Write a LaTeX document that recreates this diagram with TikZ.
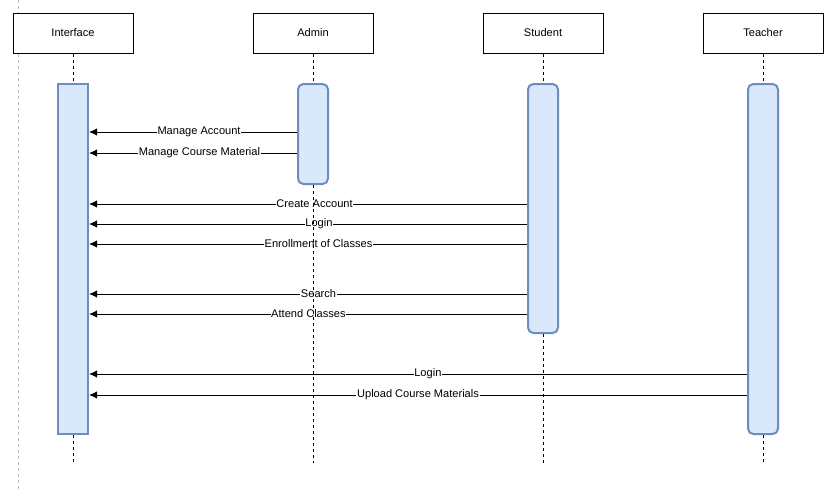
\documentclass[tikz,border=0pt]{standalone}
\usepackage{fontspec}
\setmainfont{Liberation Sans}
\usetikzlibrary{arrows.meta}
\definecolor{barfill}{HTML}{DAE8FC}
\definecolor{barline}{HTML}{6C8EBF}
\tikzset{
  actor/.style={draw=black, line width=0.75pt, fill=white, minimum width=90pt, minimum height=30pt, inner sep=0pt, font=\fontsize{8.3}{10}\selectfont},
  lifeline/.style={black, line width=0.75pt, dash pattern=on 2.25pt off 2.25pt},
  actbar/.style={draw=barline, fill=barfill, line width=1.5pt, minimum width=22.5pt, inner sep=0pt, anchor=north},
  msg/.style={-{Latex[length=6pt,width=5.5pt]}, line width=0.75pt},
  lbl/.style={fill=white, inner sep=0.5pt, font=\fontsize{8.3}{10}\selectfont}
}
\begin{document}
\begin{tikzpicture}[x=0.75pt,y=-0.75pt]
\useasboundingbox (0,0) rectangle (839,490);
\fill[white] (0,0) rectangle (839,490);
\draw[gray!50, line width=0.75pt, dash pattern=on 2.25pt off 2.25pt] (18,0) -- (18,490);
% actors
\node[actor] (iface) at (73,33) {Interface};
\node[actor] (admin) at (313,33) {Admin};
\node[actor] (stud) at (543,33) {Student};
\node[actor] (teach) at (763,33) {Teacher};
% activation bars
\node[actbar, minimum height=262.5pt] (ibar) at (73,83) {};
\node[actbar, rounded corners=4pt, minimum height=75pt] (abar) at (313,83) {};
\node[actbar, rounded corners=4pt, minimum height=186.75pt] (sbar) at (543,83) {};
\node[actbar, rounded corners=4pt, minimum height=262.5pt] (tbar) at (763,83) {};
% messages
\draw[msg] (abar.west |- 0,132) -- node[lbl, pos=0.471] {Manage Account} (ibar.east |- 0,132);
\draw[msg] (abar.west |- 0,153) -- node[lbl, pos=0.469] {Manage Course Material} (ibar.east |- 0,153);
\draw[msg] (sbar.west |- 0,204) -- node[lbl, pos=0.485] {Create Account} (ibar.east |- 0,204);
\draw[msg] (sbar.west |- 0,224) -- node[lbl, pos=0.475] {Login} (ibar.east |- 0,224);
\draw[msg] (sbar.west |- 0,244) -- node[lbl, pos=0.476] {Enrollment of Classes} (ibar.east |- 0,244);
\draw[msg] (sbar.west |- 0,294) -- node[lbl, pos=0.476] {Search} (ibar.east |- 0,294);
\draw[msg] (sbar.west |- 0,314) -- node[lbl, pos=0.499] {Attend Classes} (ibar.east |- 0,314);
\draw[msg] (tbar.west |- 0,374) -- node[lbl, pos=0.485] {Login} (ibar.east |- 0,374);
\draw[msg] (tbar.west |- 0,395) -- node[lbl, pos=0.5] {Upload Course Materials} (ibar.east |- 0,395);
% lifelines
\coordinate (ifaceEnd) at (73,463);
\coordinate (adminEnd) at (313,463);
\coordinate (studEnd) at (543,463);
\coordinate (teachEnd) at (763,463);
\draw[lifeline] (iface.south) -- (ibar.north);
\draw[lifeline] (ibar.south) -- (ifaceEnd);
\draw[lifeline] (admin.south) -- (abar.north);
\draw[lifeline] (abar.south) -- (adminEnd);
\draw[lifeline] (stud.south) -- (sbar.north);
\draw[lifeline] (sbar.south) -- (studEnd);
\draw[lifeline] (teach.south) -- (tbar.north);
\draw[lifeline] (tbar.south) -- (teachEnd);
\end{tikzpicture}
\end{document}
